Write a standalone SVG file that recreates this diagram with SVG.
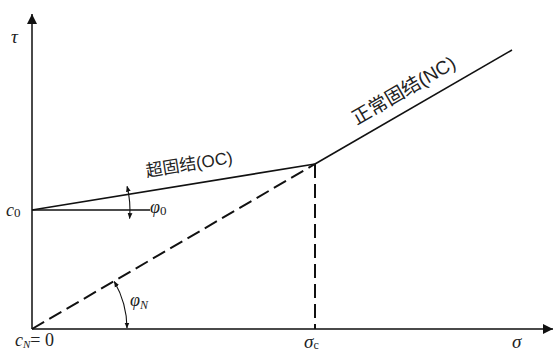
<svg xmlns="http://www.w3.org/2000/svg" width="559" height="353" viewBox="0 0 559 353">
<style>
.axis{stroke:#4a4a4a;stroke-width:2;fill:none}
.ln{stroke:#111;stroke-width:1.6;fill:none}
.dash{stroke:#111;stroke-width:2;fill:none;stroke-dasharray:14,6}
.arc{stroke:#111;stroke-width:1.1;fill:none}
.m{font-family:"Liberation Serif",serif;font-style:italic;fill:#222}
.r{font-family:"Liberation Serif",serif;fill:#222}
.cn{font-family:"Liberation Sans","Noto Sans CJK SC",sans-serif;fill:#222}
</style>
<defs>
<marker id="ah" viewBox="0 0 10 10" refX="10" refY="5" markerWidth="10" markerHeight="10" markerUnits="userSpaceOnUse" orient="auto">
<path d="M0,0 L10,5 L0,10 z" fill="#111"/>
</marker>
<marker id="sa" viewBox="0 0 10 10" refX="9" refY="5" markerWidth="6" markerHeight="6" markerUnits="userSpaceOnUse" orient="auto-start-reverse">
<path d="M0,1 L10,5 L0,9 z" fill="#111"/>
</marker>
</defs>
<rect width="559" height="353" fill="#fff"/>
<g id="axes">
<line class="axis" x1="32" y1="329" x2="32" y2="14" marker-end="url(#ah)"/>
<line class="axis" x1="32" y1="329" x2="553" y2="329" marker-end="url(#ah)"/>
</g>
<g id="connectors">
<line class="ln" x1="32" y1="210" x2="150" y2="210"/>
<line class="ln" x1="32" y1="210" x2="315" y2="164"/>
<line class="ln" x1="315" y1="164" x2="512" y2="50"/>
<line class="dash" x1="32" y1="329" x2="315" y2="164"/>
<line class="dash" x1="315" y1="164" x2="315" y2="329" stroke-dasharray="16,8"/>
<path class="arc" d="M127.1,186.3 A98,98 0 0 1 129.6,218.5" marker-start="url(#sa)" marker-end="url(#sa)"/>
<path class="arc" d="M114.3,281.5 A95,95 0 0 1 127,328" marker-start="url(#sa)" marker-end="url(#sa)"/>
</g>
<g id="labels">
<text class="m" x="11" y="43" font-size="19">τ</text>
<text class="m" x="6" y="216" font-size="18">c<tspan class="r" font-style="normal" font-size="13" dy="1">0</tspan></text>
<text class="m" x="150" y="213" font-size="18">φ<tspan class="r" font-style="normal" font-size="13" dy="2">0</tspan></text>
<text class="m" x="130" y="306" font-size="18">φ<tspan font-size="12" dy="3">N</tspan></text>
<text class="m" x="15" y="346" font-size="18">c<tspan font-size="11" dy="2">N</tspan><tspan class="r" font-style="normal" font-size="18" dy="-2">= 0</tspan></text>
<text class="m" x="304" y="348" font-size="19">σ<tspan class="r" font-style="normal" font-size="12" dy="1">c</tspan></text>
<text class="m" x="512" y="348" font-size="19">σ</text>
<text class="cn" font-size="17" text-anchor="middle" transform="translate(190,170) rotate(-9.2)">超固结(OC)</text>
<text class="cn" font-size="19" text-anchor="middle" transform="translate(407,96) rotate(-30.2)">正常固结(NC)</text>
</g>
</svg>
